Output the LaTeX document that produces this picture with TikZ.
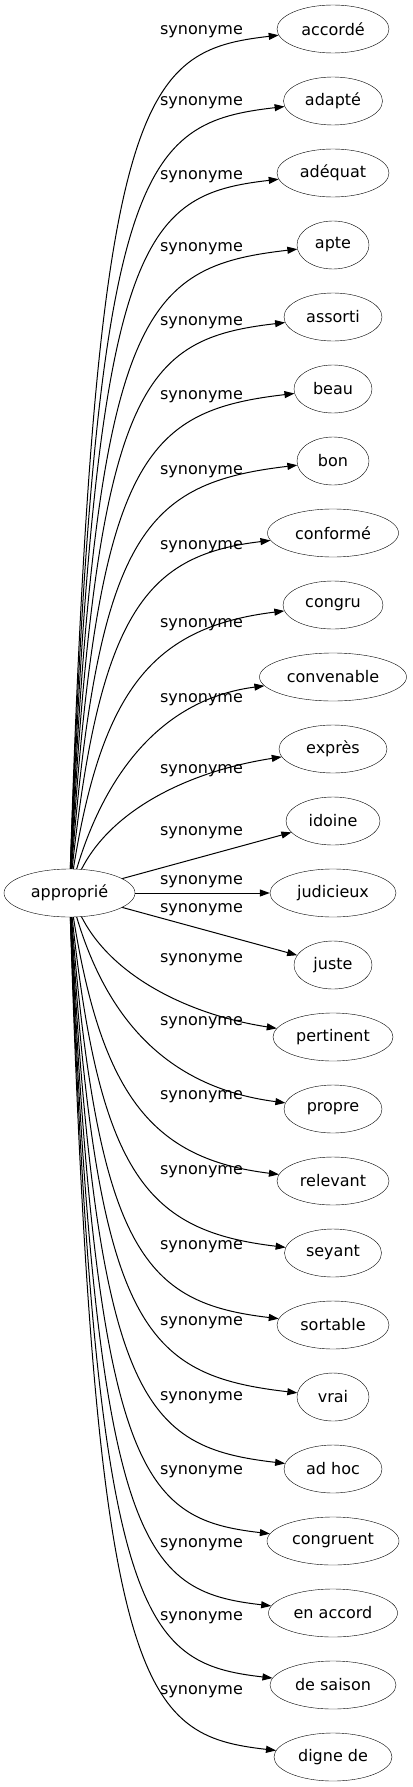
\documentclass[tikz,border=0pt]{standalone}
\usepackage{fontspec}
\setmainfont{DejaVu Sans}
\usetikzlibrary{shapes.geometric,arrows.meta}

\tikzset{
  mot/.style={draw, ellipse, minimum height=48pt, inner sep=0pt,
    font=\fontsize{16}{19}\selectfont},
  rel/.style={font=\fontsize{16}{19}\selectfont},
  lien/.style={line width=1pt, -{Triangle[length=10pt,width=7pt]}},
}

\begin{document}
\begin{tikzpicture}[x=1pt,y=-1pt]
    \useasboundingbox (0,0) rectangle (412,1787);

    %% the word
    \node[mot, minimum width=131pt] (approprie) at (69.5,893) {approprié};

    %% synonyms, labels and links
    \foreach \mot/\w/\ly [count=\i from 0] in {accordé/112/32, adapté/99/103,
      adéquat/112/177, apte/72/249, assorti/98/323, beau/78/397, bon/72/472,
      conformé/131/547, congru/100/625, convenable/147/700, exprès/108/771,
      idoine/94/833, judicieux/126/882, juste/78/910, pertinent/120/960,
      propre/98/1023, relevant/112/1097, seyant/97/1172, sortable/112/1247,
      vrai/72/1323, ad hoc/98/1398, congruent/132/1472, en accord/129/1545,
      de saison/126/1618, digne de/118/1692}{
      \pgfmathsetmacro{\yt}{29+72*\i}
      \pgfmathsetmacro{\k}{max(abs(\i-12),1)}
      \node[mot, minimum width=\w pt] (s\i) at (333,\yt) {\mot};
      \node[rel] (lab\i) at (201.5,\ly) {synonyme};
      \pgfmathsetmacro{\ax}{92+40/\k}
      \pgfmathsetmacro{\bx}{140+200/(\k*\k)}
      \ifnum\i<11
        \pgfmathsetmacro{\ay}{\yt+min(60+400/(\k*\k),0.5*(869-\yt))}
        \draw[lien] (approprie) .. controls (\ax,\ay) and (\bx,\yt+22) .. (s\i);
      \else\ifnum\i>13
        \pgfmathsetmacro{\ay}{\yt-min(60+400/(\k*\k),0.5*(\yt-917))}
        \draw[lien] (approprie) .. controls (\ax,\ay) and (\bx,\yt-22) .. (s\i);
      \else
        \draw[lien] (approprie) -- (s\i);
      \fi\fi
    }
\end{tikzpicture}
\end{document}
